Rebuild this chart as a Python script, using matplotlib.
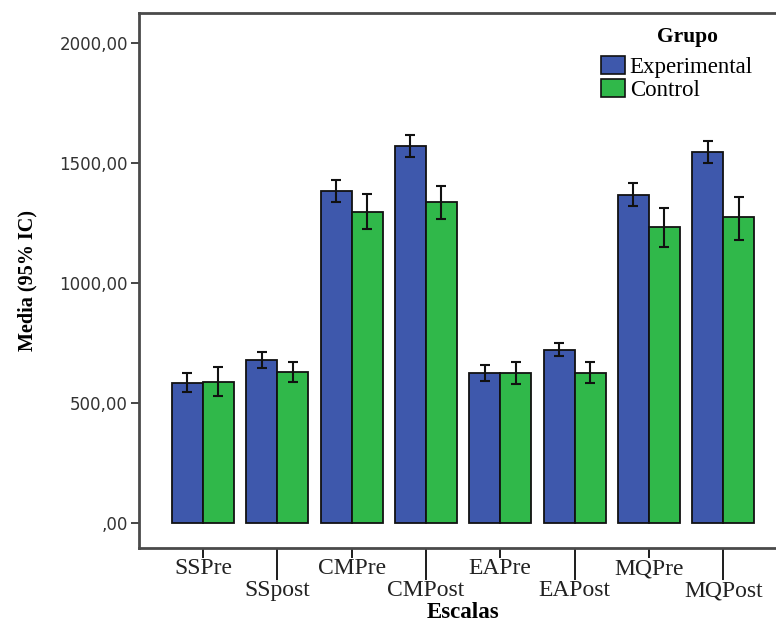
import matplotlib
matplotlib.use("Agg")
import matplotlib.pyplot as plt
import numpy as np
from matplotlib.patches import Patch

categories = ["SSPre", "SSpost", "CMPre", "CMPost", "EAPre", "EAPost", "MQPre", "MQPost"]
groups = ["Experimental", "Control"]
exp_mean = [585, 679, 1385, 1572, 625, 721, 1367, 1546]
exp_lo = [547, 646, 1336, 1525, 592, 696, 1321, 1500]
exp_hi = [625, 713, 1431, 1616, 658, 750, 1417, 1592]
ctl_mean = [589, 629, 1297, 1338, 625, 625, 1233, 1275]
ctl_lo = [530, 587, 1223, 1268, 579, 583, 1150, 1179]
ctl_hi = [649, 671, 1372, 1405, 671, 671, 1312, 1358]
yticks = [0, 500, 1000, 1500, 2000]
ytick_labels = [",00", "500,00", "1000,00", "1500,00", "2000,00"]

blue = "#3E58AC"
green = "#30B84A"
spine_c = "#4a4a4a"
PX = 72 / 100  # points per pixel

fig = plt.figure(figsize=(7.76, 6.24), dpi=100)
ax = fig.add_axes([139/776, 76/624, 1 - 139/776, (548-13)/624])

x = np.arange(len(categories))
w = 0.417

def err(m, lo, hi):
    m = np.array(m); lo = np.array(lo); hi = np.array(hi)
    return np.vstack([m - lo, hi - m])

ax.bar(x - w/2, exp_mean, w, color=blue, edgecolor="#111111", linewidth=1.3, zorder=2)
ax.bar(x + w/2, ctl_mean, w, color=green, edgecolor="#111111", linewidth=1.3, zorder=2)
ax.errorbar(x - w/2, exp_mean, yerr=err(exp_mean, exp_lo, exp_hi), fmt="none",
            ecolor="#111111", elinewidth=1.5, capsize=3.5, capthick=1.5, zorder=3)
ax.errorbar(x + w/2, ctl_mean, yerr=err(ctl_mean, ctl_lo, ctl_hi), fmt="none",
            ecolor="#111111", elinewidth=1.5, capsize=3.5, capthick=1.5, zorder=3)

ax.set_xlim(-0.861, 7.71)
ax.set_ylim(-104, 2125)

for s in ["left", "bottom", "top"]:
    ax.spines[s].set_color(spine_c)
    ax.spines[s].set_linewidth(2)
ax.spines["right"].set_visible(False)

ax.set_yticks(yticks)
ax.set_yticklabels(ytick_labels, fontfamily="DejaVu Sans", fontsize=12, color="#333333")
ax.tick_params(axis="y", length=8*PX, width=2*PX, color=spine_c, pad=3*PX)

even = x[::2]
odd = x[1::2]
ax.set_xticks(even)
ax.set_xticklabels(categories[::2], fontfamily="Liberation Serif", fontsize=17, color="#222222")
ax.set_xticks(odd, minor=True)
ax.set_xticklabels(categories[1::2], minor=True, fontfamily="Liberation Serif", fontsize=17, color="#222222")
ax.tick_params(axis="x", which="major", length=10*PX, width=2*PX, color="#222222", pad=0)
ax.tick_params(axis="x", which="minor", length=32*PX, width=2*PX, color="#222222", pad=0)

fig.text(463/776, 1 - 612/624, "Escalas", ha="center", va="center", fontfamily="Liberation Serif",
         fontweight="bold", fontsize=16.5)
ax.set_ylabel("Media (95% IC)", fontfamily="Liberation Serif", fontweight="bold", fontsize=14.5, labelpad=16)

handles = [Patch(facecolor=blue, edgecolor="#111111", linewidth=1.2),
           Patch(facecolor=green, edgecolor="#111111", linewidth=1.2)]
leg = ax.legend(handles, groups, loc="upper left", bbox_to_anchor=(601/776, 1 - 56/624),
                bbox_transform=fig.transFigure, frameon=False, borderpad=0, borderaxespad=0,
                handlelength=1.05, handleheight=0.85, handletextpad=0.2, labelspacing=0.02,
                prop={"family": "Liberation Serif", "size": 16.5})
fig.text(687/776, 1 - 37/624, "Grupo", ha="center", va="center", fontfamily="Liberation Serif",
         fontweight="bold", fontsize=15.5)

fig.savefig("out.png", dpi=100)
